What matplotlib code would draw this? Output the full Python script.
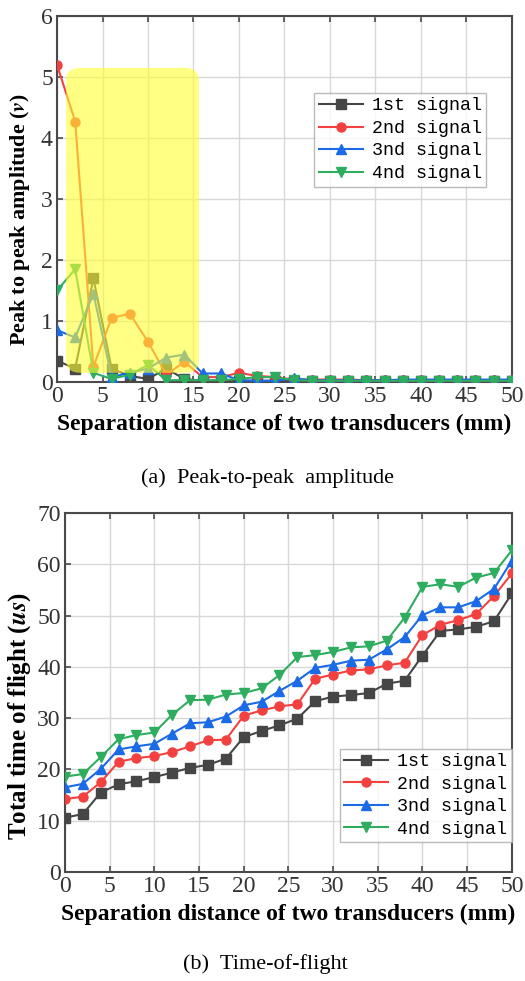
import matplotlib
matplotlib.use('Agg')
import matplotlib.pyplot as plt
from matplotlib.patches import FancyBboxPatch

plt.rcParams['font.family'] = 'Liberation Serif'
plt.rcParams['mathtext.fontset'] = 'stix'

# separation distance (mm)
dist = list(range(0, 52, 2))

# peak-to-peak amplitude (v)
amp_1st = [0.35, 0.22, 1.70, 0.22, 0.10, 0.05, 0.22, 0.05, 0.02, 0.02, 0.02, 0.02, 0.02,
           0.02, 0.02, 0.02, 0.02, 0.02, 0.02, 0.02, 0.02, 0.02, 0.02, 0.02, 0.02, 0.02]
amp_2nd = [5.20, 4.27, 0.25, 1.05, 1.12, 0.66, 0.12, 0.33, 0.08, 0.08, 0.15, 0.10, 0.08,
           0.04, 0.04, 0.04, 0.04, 0.03, 0.03, 0.03, 0.03, 0.03, 0.03, 0.03, 0.03, 0.03]
amp_3rd = [0.85, 0.73, 1.45, 0.08, 0.15, 0.22, 0.40, 0.45, 0.14, 0.14, 0.03, 0.02, 0.02,
           0.06, 0.03, 0.03, 0.03, 0.03, 0.03, 0.04, 0.04, 0.04, 0.04, 0.04, 0.04, 0.04]
amp_4th = [1.50, 1.85, 0.15, 0.05, 0.12, 0.28, 0.03, 0.03, 0.03, 0.03, 0.05, 0.08, 0.08,
           0.03, 0.02, 0.02, 0.02, 0.02, 0.02, 0.02, 0.02, 0.02, 0.02, 0.02, 0.02, 0.02]

# total time of flight (us)
tof_1st = [10.6, 11.3, 15.5, 17.1, 17.7, 18.5, 19.4, 20.3, 20.9, 22.1, 26.3, 27.5, 28.6,
           29.9, 33.3, 34.2, 34.5, 34.9, 36.7, 37.3, 42.2, 47.0, 47.3, 47.8, 48.9, 54.3]
tof_2nd = [14.2, 14.7, 17.5, 21.5, 22.2, 22.6, 23.4, 24.5, 25.7, 25.8, 30.5, 31.5, 32.3,
           32.7, 37.7, 38.5, 39.3, 39.5, 40.3, 40.8, 46.2, 48.2, 49.1, 50.3, 53.8, 58.2]
tof_3rd = [16.5, 17.2, 20.1, 23.9, 24.5, 25.0, 27.0, 29.0, 29.2, 30.3, 32.5, 33.2, 35.3,
           37.3, 39.8, 40.4, 41.2, 41.4, 43.4, 45.8, 50.1, 51.6, 51.6, 52.8, 55.2, 60.7]
tof_4th = [18.6, 19.1, 22.4, 25.9, 26.7, 27.2, 30.7, 33.5, 33.6, 34.6, 34.9, 35.8, 38.4,
           41.9, 42.3, 42.9, 43.8, 44.0, 45.1, 49.6, 55.6, 56.1, 55.6, 57.4, 58.3, 62.7]

labels = ['1st signal', '2nd signal', '3nd signal', '4nd signal']
colors = ['#464646', '#f2413f', '#1b6ae6', '#2fad5f']
markers = ['s', 'o', '^', 'v']

fig = plt.figure(figsize=(5.25, 9.81), dpi=100)
ax1 = fig.add_axes([0.1086, 0.6106, 0.8664, 0.3731])
ax2 = fig.add_axes([0.1238, 0.1111, 0.8512, 0.3660])


def style_axes(ax):
    ax.grid(True, color='#d8d8d8', linewidth=1.0)
    ax.set_axisbelow(True)
    for s in ax.spines.values():
        s.set_color('#4a4a4a')
        s.set_linewidth(1.5)
    ax.tick_params(direction='in', length=4, width=1.2, color='#4a4a4a',
                   labelsize=17, labelcolor='#333333', top=True, pad=3)
    ax.set_xlim(0, 50)
    ax.set_xticks(range(0, 51, 5))
    ax.set_xlabel('Separation distance of two transducers (mm)', fontsize=17,
                  fontweight='bold', labelpad=5)


def add_legend(ax, anchor, loc):
    leg = ax.legend(loc=loc, bbox_to_anchor=anchor,
                    prop={'family': 'Liberation Mono', 'size': 13.2},
                    frameon=True, fancybox=False, edgecolor='#aaaaaa', borderpad=0.25,
                    labelspacing=0.3, handlelength=2.4, handletextpad=0.5, borderaxespad=0)
    leg.get_frame().set_linewidth(1.0)


for ys, c, m, lab in zip([amp_1st, amp_2nd, amp_3rd, amp_4th], colors, markers, labels):
    ax1.plot(dist, ys, color=c, marker=m, markersize=6.5, linewidth=1.5, label=lab, zorder=3)
ax1.set_ylim(0, 6)
ax1.set_yticks(range(0, 7))
style_axes(ax1)
ax1.set_ylabel(r'Peak to peak amplitude ($\mathbfit{v}$)', fontsize=15.8, fontweight='bold')
ax1.yaxis.set_label_coords(-0.055, 0.443)

# highlighted near-field region
box = FancyBboxPatch((1.0, 0.15), 14.6, 5.0, boxstyle='round,pad=0,rounding_size=1.6',
                     mutation_aspect=0.13, facecolor='#ffff33', edgecolor='none',
                     alpha=0.6, zorder=4)
ax1.add_patch(box)
add_legend(ax1, (0.565, 0.79), 'upper left')

for ys, c, m, lab in zip([tof_1st, tof_2nd, tof_3rd, tof_4th], colors, markers, labels):
    ax2.plot(dist, ys, color=c, marker=m, markersize=6.5, linewidth=1.5, label=lab, zorder=3)
ax2.set_ylim(0, 70)
ax2.set_yticks(range(0, 71, 10))
style_axes(ax2)
ax2.set_ylabel(r'Total time of flight ($\mathbfit{us}$)', fontsize=18, fontweight='bold')
ax2.yaxis.set_label_coords(-0.072, 0.434)
add_legend(ax2, (1.0, 0.083), 'lower right')

fig.text(0.51, 0.5127, '(a)  Peak-to-peak  amplitude', ha='center', va='center', fontsize=16)
fig.text(0.505, 0.0173, '(b)  Time-of-flight', ha='center', va='center', fontsize=16)

fig.savefig('out.png', dpi=100)
